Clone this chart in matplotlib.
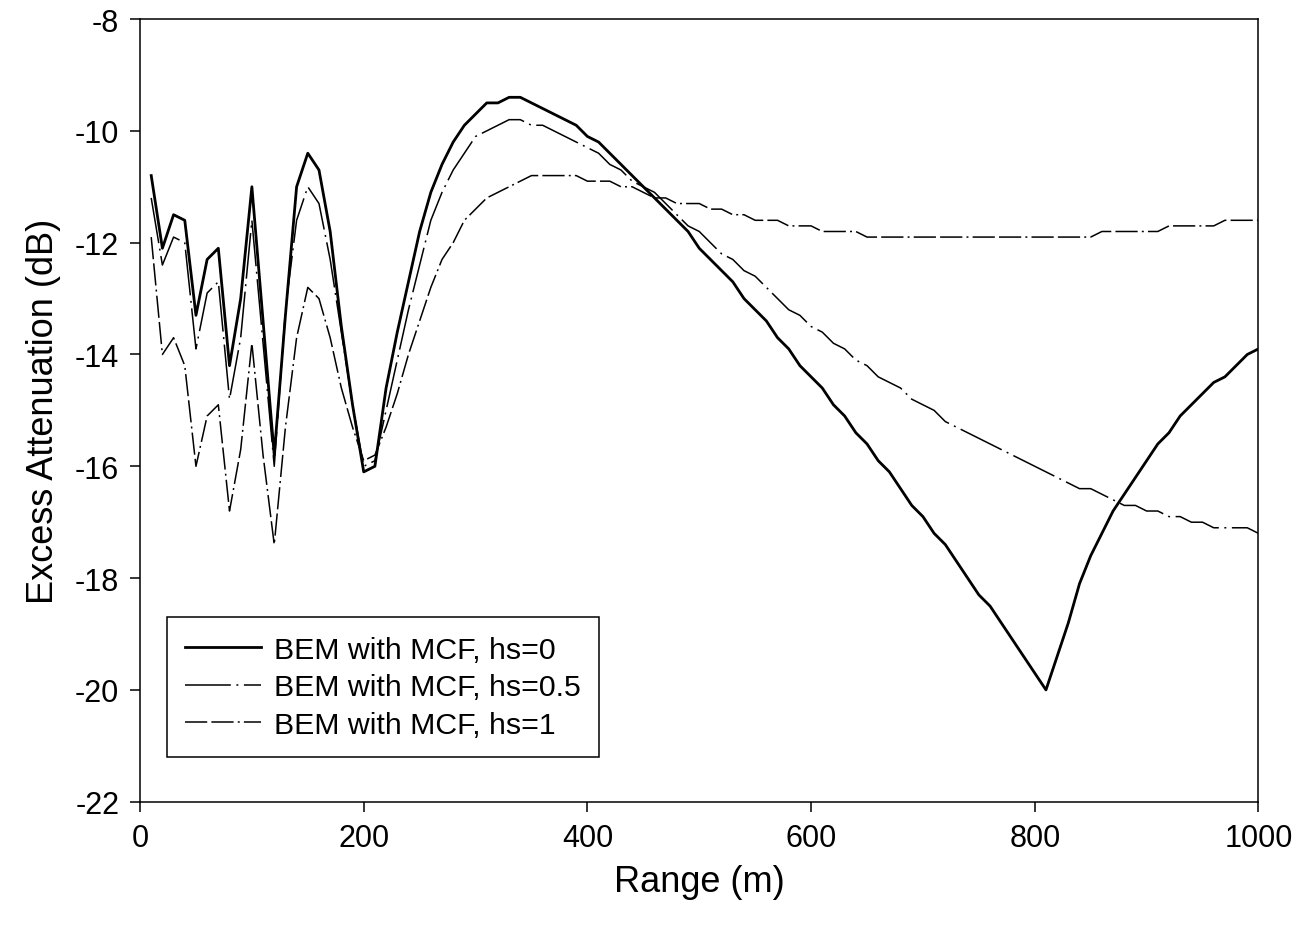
import matplotlib
matplotlib.use("Agg")
import matplotlib.pyplot as plt
import numpy as np

plt.rcParams['font.family'] = ['Liberation Sans', 'DejaVu Sans']
plt.rcParams['axes.unicode_minus'] = False
plt.rcParams['lines.scale_dashes'] = False

# range in metres, one point every 10 m
rng = np.arange(10, 1001, 10)

# BEM with MCF, hs=0
hs0 = [-10.8, -12.1, -11.5, -11.6, -13.3, -12.3, -12.1, -14.2, -13.0, -11.0,
       -13.4, -15.8, -13.3, -11.0, -10.4, -10.7, -11.8, -13.5, -14.9, -16.1,
       -16.0, -14.6, -13.6, -12.7, -11.8, -11.1, -10.6, -10.2, -9.9, -9.7,
       -9.5, -9.5, -9.4, -9.4, -9.5, -9.6, -9.7, -9.8, -9.9, -10.1,
       -10.2, -10.4, -10.6, -10.8, -11.0, -11.2, -11.4, -11.6, -11.8, -12.1,
       -12.3, -12.5, -12.7, -13.0, -13.2, -13.4, -13.7, -13.9, -14.2, -14.4,
       -14.6, -14.9, -15.1, -15.4, -15.6, -15.9, -16.1, -16.4, -16.7, -16.9,
       -17.2, -17.4, -17.7, -18.0, -18.3, -18.5, -18.8, -19.1, -19.4, -19.7,
       -20.0, -19.4, -18.8, -18.1, -17.6, -17.2, -16.8, -16.5, -16.2, -15.9,
       -15.6, -15.4, -15.1, -14.9, -14.7, -14.5, -14.4, -14.2, -14.0, -13.9]

# BEM with MCF, hs=0.5
hs05 = [-11.2, -12.4, -11.9, -12.0, -13.9, -12.9, -12.7, -14.8, -13.7, -11.6,
        -13.8, -16.0, -13.2, -11.6, -11.0, -11.3, -12.3, -13.6, -14.9, -16.0,
        -15.9, -15.0, -14.1, -13.2, -12.4, -11.6, -11.1, -10.7, -10.4, -10.1,
        -10.0, -9.9, -9.8, -9.8, -9.9, -9.9, -10.0, -10.1, -10.2, -10.3,
        -10.4, -10.6, -10.7, -10.9, -11.0, -11.1, -11.3, -11.5, -11.7, -11.8,
        -12.0, -12.2, -12.3, -12.5, -12.6, -12.8, -13.0, -13.2, -13.3, -13.5,
        -13.6, -13.8, -13.9, -14.1, -14.2, -14.4, -14.5, -14.6, -14.8, -14.9,
        -15.0, -15.2, -15.3, -15.4, -15.5, -15.6, -15.7, -15.8, -15.9, -16.0,
        -16.1, -16.2, -16.3, -16.4, -16.4, -16.5, -16.6, -16.7, -16.7, -16.8,
        -16.8, -16.9, -16.9, -17.0, -17.0, -17.1, -17.1, -17.1, -17.1, -17.2]

# BEM with MCF, hs=1
hs1 = [-11.9, -14.0, -13.7, -14.2, -16.0, -15.1, -14.9, -16.8, -15.7, -13.8,
       -15.8, -17.4, -15.3, -13.7, -12.8, -13.0, -13.7, -14.6, -15.3, -15.9,
       -15.8, -15.3, -14.7, -14.0, -13.4, -12.8, -12.3, -12.0, -11.6, -11.4,
       -11.2, -11.1, -11.0, -10.9, -10.8, -10.8, -10.8, -10.8, -10.8, -10.9,
       -10.9, -10.9, -11.0, -11.0, -11.1, -11.2, -11.2, -11.3, -11.3, -11.3,
       -11.4, -11.4, -11.5, -11.5, -11.6, -11.6, -11.6, -11.7, -11.7, -11.7,
       -11.8, -11.8, -11.8, -11.8, -11.9, -11.9, -11.9, -11.9, -11.9, -11.9,
       -11.9, -11.9, -11.9, -11.9, -11.9, -11.9, -11.9, -11.9, -11.9, -11.9,
       -11.9, -11.9, -11.9, -11.9, -11.9, -11.8, -11.8, -11.8, -11.8, -11.8,
       -11.8, -11.7, -11.7, -11.7, -11.7, -11.7, -11.6, -11.6, -11.6, -11.6]

labels = ['BEM with MCF, hs=0', 'BEM with MCF, hs=0.5', 'BEM with MCF, hs=1']

fig = plt.figure(figsize=(12.99, 9.28), dpi=100)
ax = fig.add_axes([0.1078, 0.135, 0.861, 0.8434])

ax.plot(rng, hs0, color='black', linewidth=2.0, label=labels[0])
ax.plot(rng, hs05, color='black', linewidth=1.1, dashes=(33, 4, 1.4, 4), label=labels[1])
ax.plot(rng, hs1, color='black', linewidth=1.1, dashes=(16, 3, 16, 3, 1.4, 3), label=labels[2])

ax.set_xlim(0, 1000)
ax.set_ylim(-22, -8)
ax.set_xticks(np.arange(0, 1001, 200))
ax.set_yticks(np.arange(-22, -7, 2))

for s in ax.spines.values():
    s.set_linewidth(1.1)
ax.tick_params(direction='out', length=7, width=1.1, labelsize=22, pad=8,
               top=False, right=False)

ax.set_xlabel('Range (m)', fontsize=26, labelpad=8)
ax.set_ylabel('Excess Attenuation (dB)', fontsize=26, labelpad=10)

leg = ax.legend(loc='lower left', bbox_to_anchor=(0.024, 0.057), fontsize=21.8,
                frameon=True, fancybox=False, edgecolor='black', framealpha=1,
                handlelength=2.5, handletextpad=0.45, labelspacing=0.32,
                borderpad=0.6, borderaxespad=0)
leg.get_frame().set_linewidth(1.1)

plt.savefig('out.png', dpi=100)
